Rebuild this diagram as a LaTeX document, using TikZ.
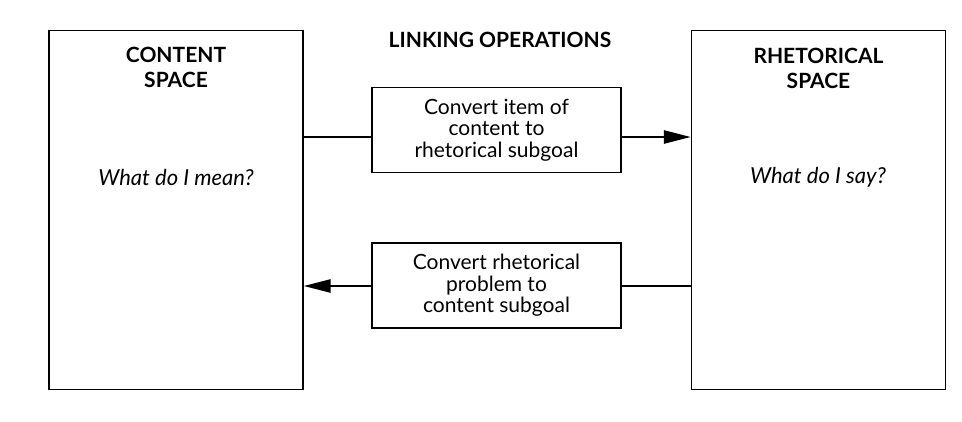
\documentclass[tikz,border=0pt]{standalone}
\usepackage{fontspec}
\setmainfont{Lato}
\usetikzlibrary{arrows.meta}
\begin{document}
\begin{tikzpicture}[x=1pt,y=-1pt,
  space/.style={draw, line width=1.3pt, minimum width=254pt, minimum height=359pt, inner sep=0pt},
  opbox/.style={draw, line width=1.3pt, minimum width=249pt, minimum height=85pt, align=center, inner sep=0pt, font=\fontsize{21}{21.5}\selectfont},
  title/.style={font=\fontsize{21}{25}\selectfont\bfseries, align=center},
  question/.style={font=\fontsize{22}{24}\selectfont\itshape},
  conn/.style={line width=2.6pt},
  link/.style={conn, -{Triangle[length=27pt,width=13pt]}}]
\useasboundingbox (0,0) rectangle (962,421);
\node[space] (cs) at (176,210) {};
\node[space] (rs) at (818.5,210) {};
\node[opbox] (op1) at (496.5,130) {Convert item of\\content to\\rhetorical subgoal};
\node[opbox] (op2) at (496.5,285.5) {Convert rhetorical\\problem to\\content subgoal};
\node[title] (lo) at (500,40) {LINKING OPERATIONS};
\node[title] (ct) at (176,67) {CONTENT\\SPACE};
\node[title] (rt) at (818.5,68) {RHETORICAL\\SPACE};
\node[question] (q1) at (176,177) {What do I mean?};
\node[question] (q2) at (818,177) {What do I say?};
\coordinate (lv1) at (0,137);
\coordinate (lv2) at (0,286);
\draw[conn] (cs.east |- lv1) -- (op1.west |- lv1);
\draw[link] (op1.east |- lv1) -- (rs.west |- lv1);
\draw[conn] (rs.west |- lv2) -- (op2.east |- lv2);
\draw[link] (op2.west |- lv2) -- (cs.east |- lv2);
\end{tikzpicture}
\end{document}
